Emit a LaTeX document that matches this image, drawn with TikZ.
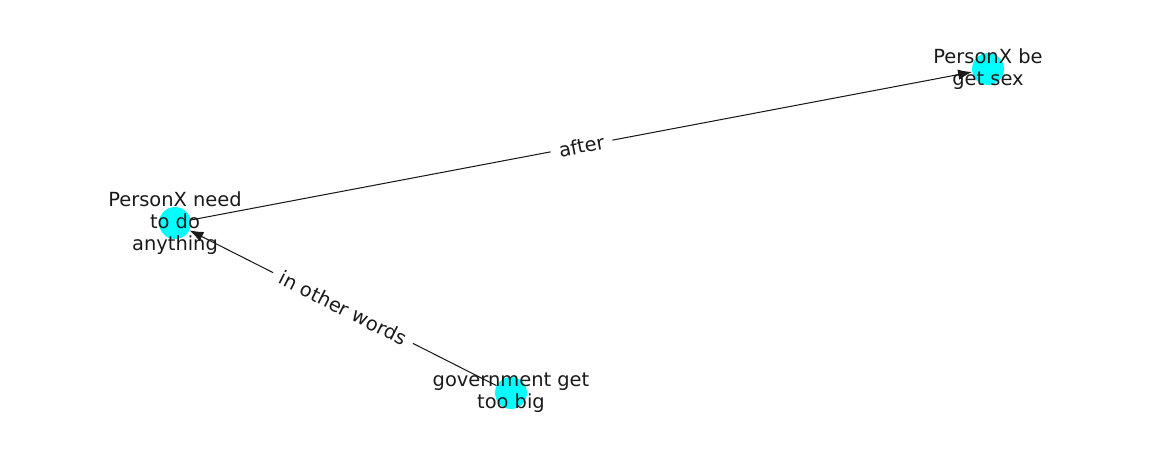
\documentclass[tikz,border=0pt]{standalone}
\usepackage{fontspec}
\setmainfont{DejaVu Sans}
\usetikzlibrary{arrows.meta}
\definecolor{knoten}{RGB}{0,255,255}
\definecolor{tinte}{RGB}{26,26,26}

\begin{document}
\begin{tikzpicture}[x=0.72pt,y=-0.72pt,
	kreis/.style={circle,fill=knoten,inner sep=0pt,minimum size=23pt},
	schrift/.style={align=center,text=tinte,font=\fontsize{14}{15.8}\selectfont},
	kante/.style={draw=tinte,line width=0.75pt,-{Latex[length=10pt,width=7.5pt]}},
	beschriftung/.style={midway,sloped,fill=white,inner xsep=6pt,inner ysep=3pt,text=tinte,font=\fontsize{14}{16}\selectfont}]
\useasboundingbox (0,0) rectangle (1162,462);
% Knoten
\node[kreis] (need) at (175,223) {};
\node[kreis] (sex) at (988,69) {};
\node[kreis] (big) at (511,393) {};
% Kanten
\draw[kante] (need) -- (sex) node[beschriftung] (after) {after};
\draw[kante] (big) -- (need) node[beschriftung] (words) {in other words};
% Texte
\node[schrift] (tneed) at (175,223) {PersonX need\\to do\\anything};
\node[schrift] (tsex) at (988,69) {PersonX be\\get sex};
\node[schrift] (tbig) at (511,393) {government get\\too big};
\end{tikzpicture}
\end{document}
